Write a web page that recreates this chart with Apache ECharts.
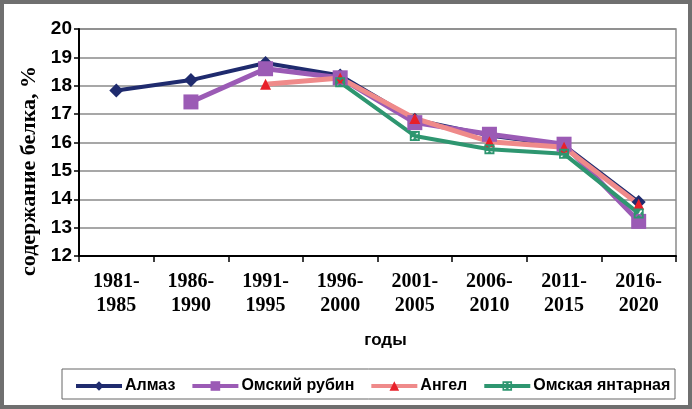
<!DOCTYPE html>
<html>
<head>
<meta charset="utf-8">
<script src="https://cdn.jsdelivr.net/npm/echarts@6/dist/echarts.min.js"></script>
<style>html,body{margin:0;padding:0;background:#fff;}#c{width:692px;height:409px;}</style>
</head>
<body>
<div id="c"></div>
<script>
const categories = ['1981-\n1985','1986-\n1990','1991-\n1995','1996-\n2000','2001-\n2005','2006-\n2010','2011-\n2015','2016-\n2020'];
const almaz = [17.83, 18.2, 18.8, 18.36, 16.8, 16.25, 15.9, 13.9];
const omskyRubin = [null, 17.43, 18.6, 18.28, 16.7, 16.29, 15.94, 13.22];
const angel = [null, null, 18.05, 18.27, 16.85, 16.03, 15.83, 13.82];
const omskayaYantarnaya = [null, null, null, 18.12, 16.23, 15.76, 15.6, 13.5];
const yTicks = [12, 20, 1];

const chart = echarts.init(document.getElementById('c'));
const sq = 'path://M0,0L10,0L10,10L0,10Z M1.5,2.5L3.5,5L1.5,7.5L2.5,8.5L5,6.5L7.5,8.5L8.5,7.5L6.5,5L8.5,2.5L7.5,1.5L5,3.5L2.5,1.5Z';
chart.setOption({
  animation: false,
  grid: {left: 79, right: 16, top: 29, bottom: 153, show: true, borderColor: '#8a8a8a', borderWidth: 1.5, containLabel: false},
  graphic: [
    {type: 'rect', shape: {x: 2, y: 2, width: 688, height: 405}, style: {fill: 'none', stroke: '#6f6f6f', lineWidth: 4}, silent: true},
    {type: 'rect', shape: {x: 62, y: 369, width: 613, height: 30}, style: {fill: 'none', stroke: '#666', lineWidth: 1}, silent: true},
    {type: 'text', x: 29, y: 171, rotation: Math.PI / 2, style: {text: 'содержание белка, %', font: 'bold 22px "Liberation Serif"', fill: '#000', textAlign: 'center', textVerticalAlign: 'middle'}, silent: true}
  ],
  legend: {
    left: 74, top: 378, padding: 0, itemWidth: 46, itemHeight: 12, itemGap: 15,
    lineStyle: {width: 4},
    textStyle: {fontFamily: 'Liberation Sans', fontWeight: 'bold', fontSize: 16, color: '#000', padding: [0, 0, 0, -2]},
    data: ['Алмаз', 'Омский рубин', 'Ангел', 'Омская янтарная']
  },
  xAxis: {
    type: 'category', data: categories, boundaryGap: true,
    name: 'годы', nameLocation: 'middle', nameGap: 76,
    nameTextStyle: {fontFamily: 'Liberation Sans', fontWeight: 'bold', fontSize: 17, color: '#000', padding: [0, 0, 0, 16]},
    axisLine: {lineStyle: {color: '#000', width: 2}},
    axisTick: {show: true, alignWithLabel: false, length: 6, lineStyle: {color: '#000', width: 1.5}},
    axisLabel: {interval: 0, margin: 14, fontFamily: 'Liberation Serif', fontWeight: 'bold', fontSize: 20, lineHeight: 24, color: '#000'}
  },
  yAxis: {
    type: 'value', min: yTicks[0], max: yTicks[1], interval: yTicks[2],
    axisLine: {show: true, lineStyle: {color: '#000', width: 2}},
    axisTick: {show: true, length: 5, lineStyle: {color: '#000', width: 1.5}},
    axisLabel: {margin: 7, fontFamily: 'Liberation Sans', fontWeight: 'bold', fontSize: 19, color: '#000'},
    splitLine: {lineStyle: {color: '#8a8a8a', width: 1.5}}
  },
  series: [
    {name: 'Алмаз', type: 'line', data: almaz, symbol: 'diamond', symbolSize: 14, connectNulls: false,
     lineStyle: {color: '#1f2b6e', width: 4}, itemStyle: {color: '#1f2b6e'}},
    {name: 'Омский рубин', type: 'line', data: omskyRubin, symbol: 'rect', symbolSize: 15,
     lineStyle: {color: '#9b5bb5', width: 5}, itemStyle: {color: '#9b5bb5'}},
    {name: 'Ангел', type: 'line', data: angel, symbol: 'triangle', symbolSize: 11,
     lineStyle: {color: '#ef8a8a', width: 5}, itemStyle: {color: '#e8202a'}},
    {name: 'Омская янтарная', type: 'line', data: omskayaYantarnaya, symbol: sq, symbolSize: 10,
     lineStyle: {color: '#2e9670', width: 4}, itemStyle: {color: '#2e9670'}}
  ]
});
</script>
</body>
</html>
